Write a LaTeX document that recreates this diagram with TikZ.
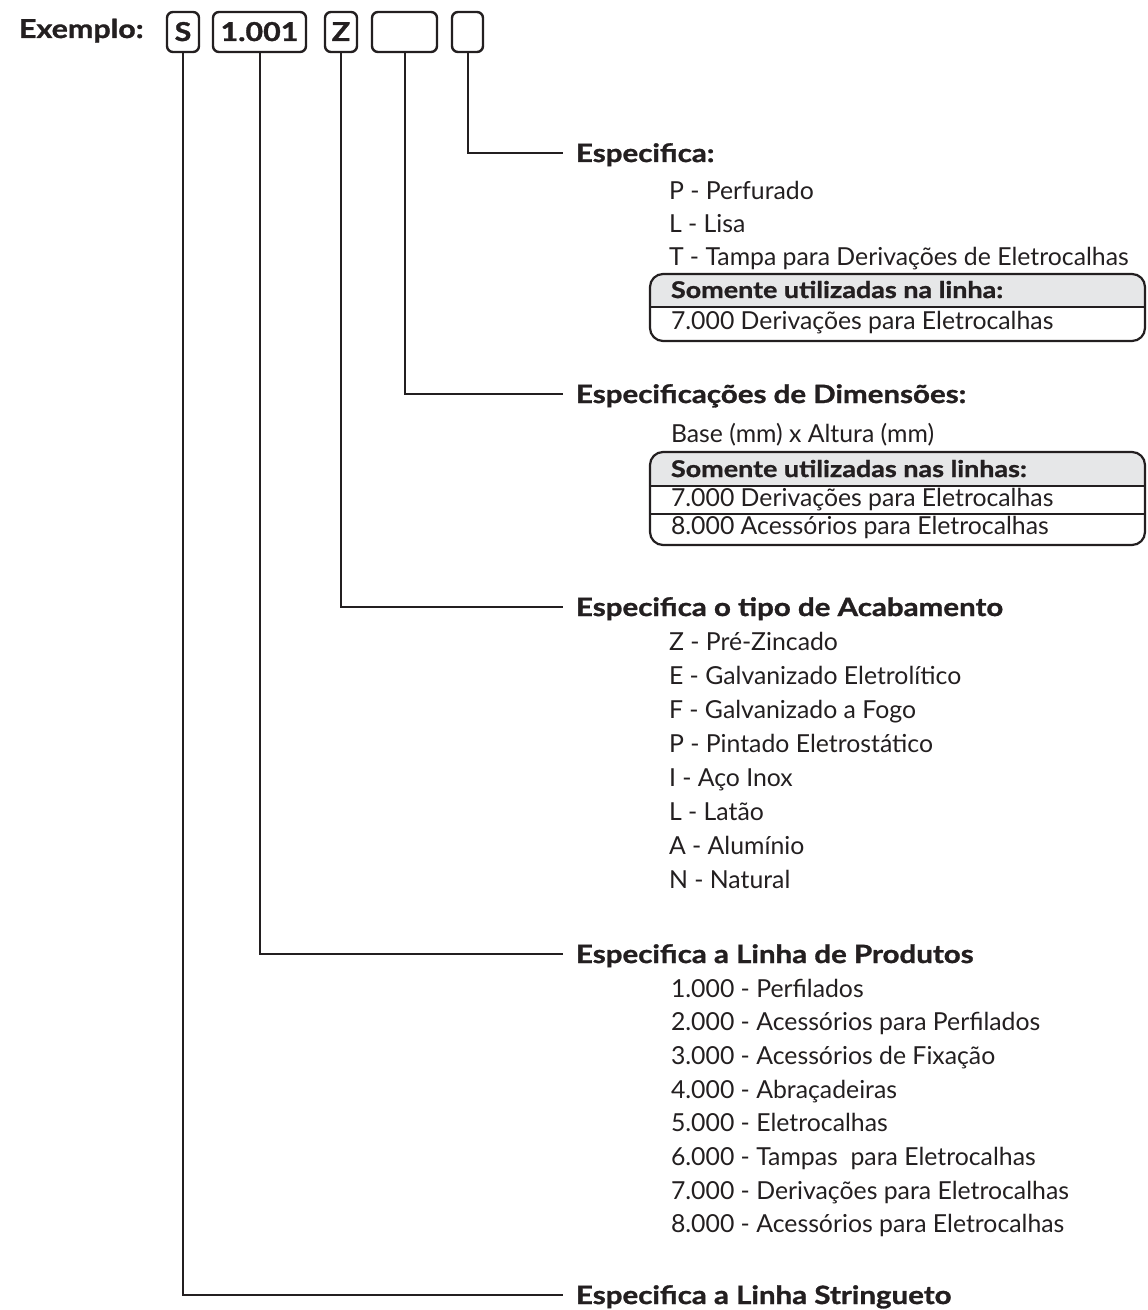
\documentclass[tikz,border=0pt]{standalone}
\usepackage{fontspec}
\setmainfont{Lato}[BoldFeatures={FakeStretch=1.17,FakeBold=1.2}]
\definecolor{ink}{HTML}{231F20}
\definecolor{headgray}{HTML}{E6E7E8}

\begin{document}
\begin{tikzpicture}[x=0.5pt,y=-0.5pt,ink,line width=1pt,
  code/.style={draw, rounded corners=3pt, line width=1.2pt, minimum height=20pt, inner sep=0pt, outer sep=0pt, font=\fontsize{13}{15}\selectfont\bfseries, text height=9pt, text depth=0pt},
  heading/.style={anchor=west, inner xsep=6.5pt, inner ysep=0pt, outer sep=0pt, text height=9pt, text depth=0pt, font=\fontsize{12.6}{15}\selectfont\bfseries},
  entry/.style={anchor=base west, inner sep=0pt, font=\fontsize{12.4}{15}\selectfont},
  tablehead/.style={anchor=base west, inner sep=0pt, font=\fontsize{11.5}{14}\selectfont\bfseries},
  lead/.style={line width=1pt}]
\useasboundingbox (0,0) rectangle (1147,1310);

% codigo de exemplo
\node[anchor=base west, inner sep=0pt, font=\fontsize{13}{16}\selectfont\bfseries] (ex) at (18,38) {Exemplo:};
\node[code, minimum width=16pt] (cS) at (183,32) {S};
\node[code, minimum width=46.5pt] (cLine) at (259.5,32) {1.001};
\node[code, minimum width=16pt] (cFin) at (341,32) {Z};
\node[code, minimum width=32.5pt] (cDim) at (404.5,32) {};
\node[code, minimum width=15.5pt] (cSpec) at (467.5,32) {};

% titulos
\node[heading] (hSpec) at (563,153) {Especifica:};
\node[heading] (hDim) at (563,394) {Especificações de Dimensões:};
\node[heading] (hFin) at (563,607) {Especifica o tipo de Acabamento};
\node[heading] (hLine) at (563,954) {Especifica a Linha de Produtos};
\node[heading] (hS) at (563,1295) {Especifica a Linha Stringueto};

\draw[lead] (cSpec.south) |- (hSpec.west);
\draw[lead] (cDim.south) |- (hDim.west);
\draw[lead] (cFin.south) |- (hFin.west);
\draw[lead] (cLine.south) |- (hLine.west);
\draw[lead] (cS.south) |- (hS.west);

% especifica
\foreach \txt [count=\i] in {P - Perfurado, L - Lisa, T - Tampa para Derivações de Eletrocalhas}
  \node[entry] (spec\i) at (668,{167+33*\i}) {\txt};

\begin{scope}
\clip[rounded corners=6.5pt] (650,274) rectangle (1145,341);
\fill[headgray] (650,274) rectangle (1145,307);
\end{scope}
\draw[rounded corners=6.5pt, line width=1.1pt] (650,274) rectangle (1145,341);
\draw[line width=1.1pt] (650,307) -- (1145,307);
\node[tablehead] (specHead) at (670,298) {Somente utilizadas na linha:};
\node[entry] (specRow) at (670,329) {7.000 Derivações para Eletrocalhas};

% dimensoes
\node[entry] (dim1) at (670,442) {Base (mm) x Altura (mm)};

\begin{scope}
\clip[rounded corners=6.5pt] (650,452) rectangle (1145,545);
\fill[headgray] (650,452) rectangle (1145,486);
\end{scope}
\draw[rounded corners=6.5pt, line width=1.1pt] (650,452) rectangle (1145,545);
\draw[line width=1.1pt] (650,486) -- (1145,486);
\draw[line width=1.1pt] (650,514) -- (1145,514);
\node[tablehead] (dimHead) at (670,477) {Somente utilizadas nas linhas:};
\node[entry] (dimRow1) at (670,506) {7.000 Derivações para Eletrocalhas};
\node[entry] (dimRow2) at (670,534) {8.000 Acessórios para Eletrocalhas};

% acabamento
\foreach \txt [count=\i] in {Z - Pré-Zincado, E - Galvanizado Eletrolítico, F - Galvanizado a Fogo, P - Pintado Eletrostático, I - Aço Inox, L - Latão, A - Alumínio, N - Natural}
  \node[entry] (fin\i) at (668,{617+33.9*\i}) {\txt};

% linha de produtos
\foreach \txt [count=\i] in {1.000 - Perfilados, 2.000 - Acessórios para Perfilados, 3.000 - Acessórios de Fixação, 4.000 - Abraçadeiras, 5.000 - Eletrocalhas, 6.000 - Tampas\ \ para Eletrocalhas, 7.000 - Derivações para Eletrocalhas, 8.000 - Acessórios para Eletrocalhas}
  \node[entry] (line\i) at (670,{963.3+33.7*\i}) {\txt};
\end{tikzpicture}
\end{document}
